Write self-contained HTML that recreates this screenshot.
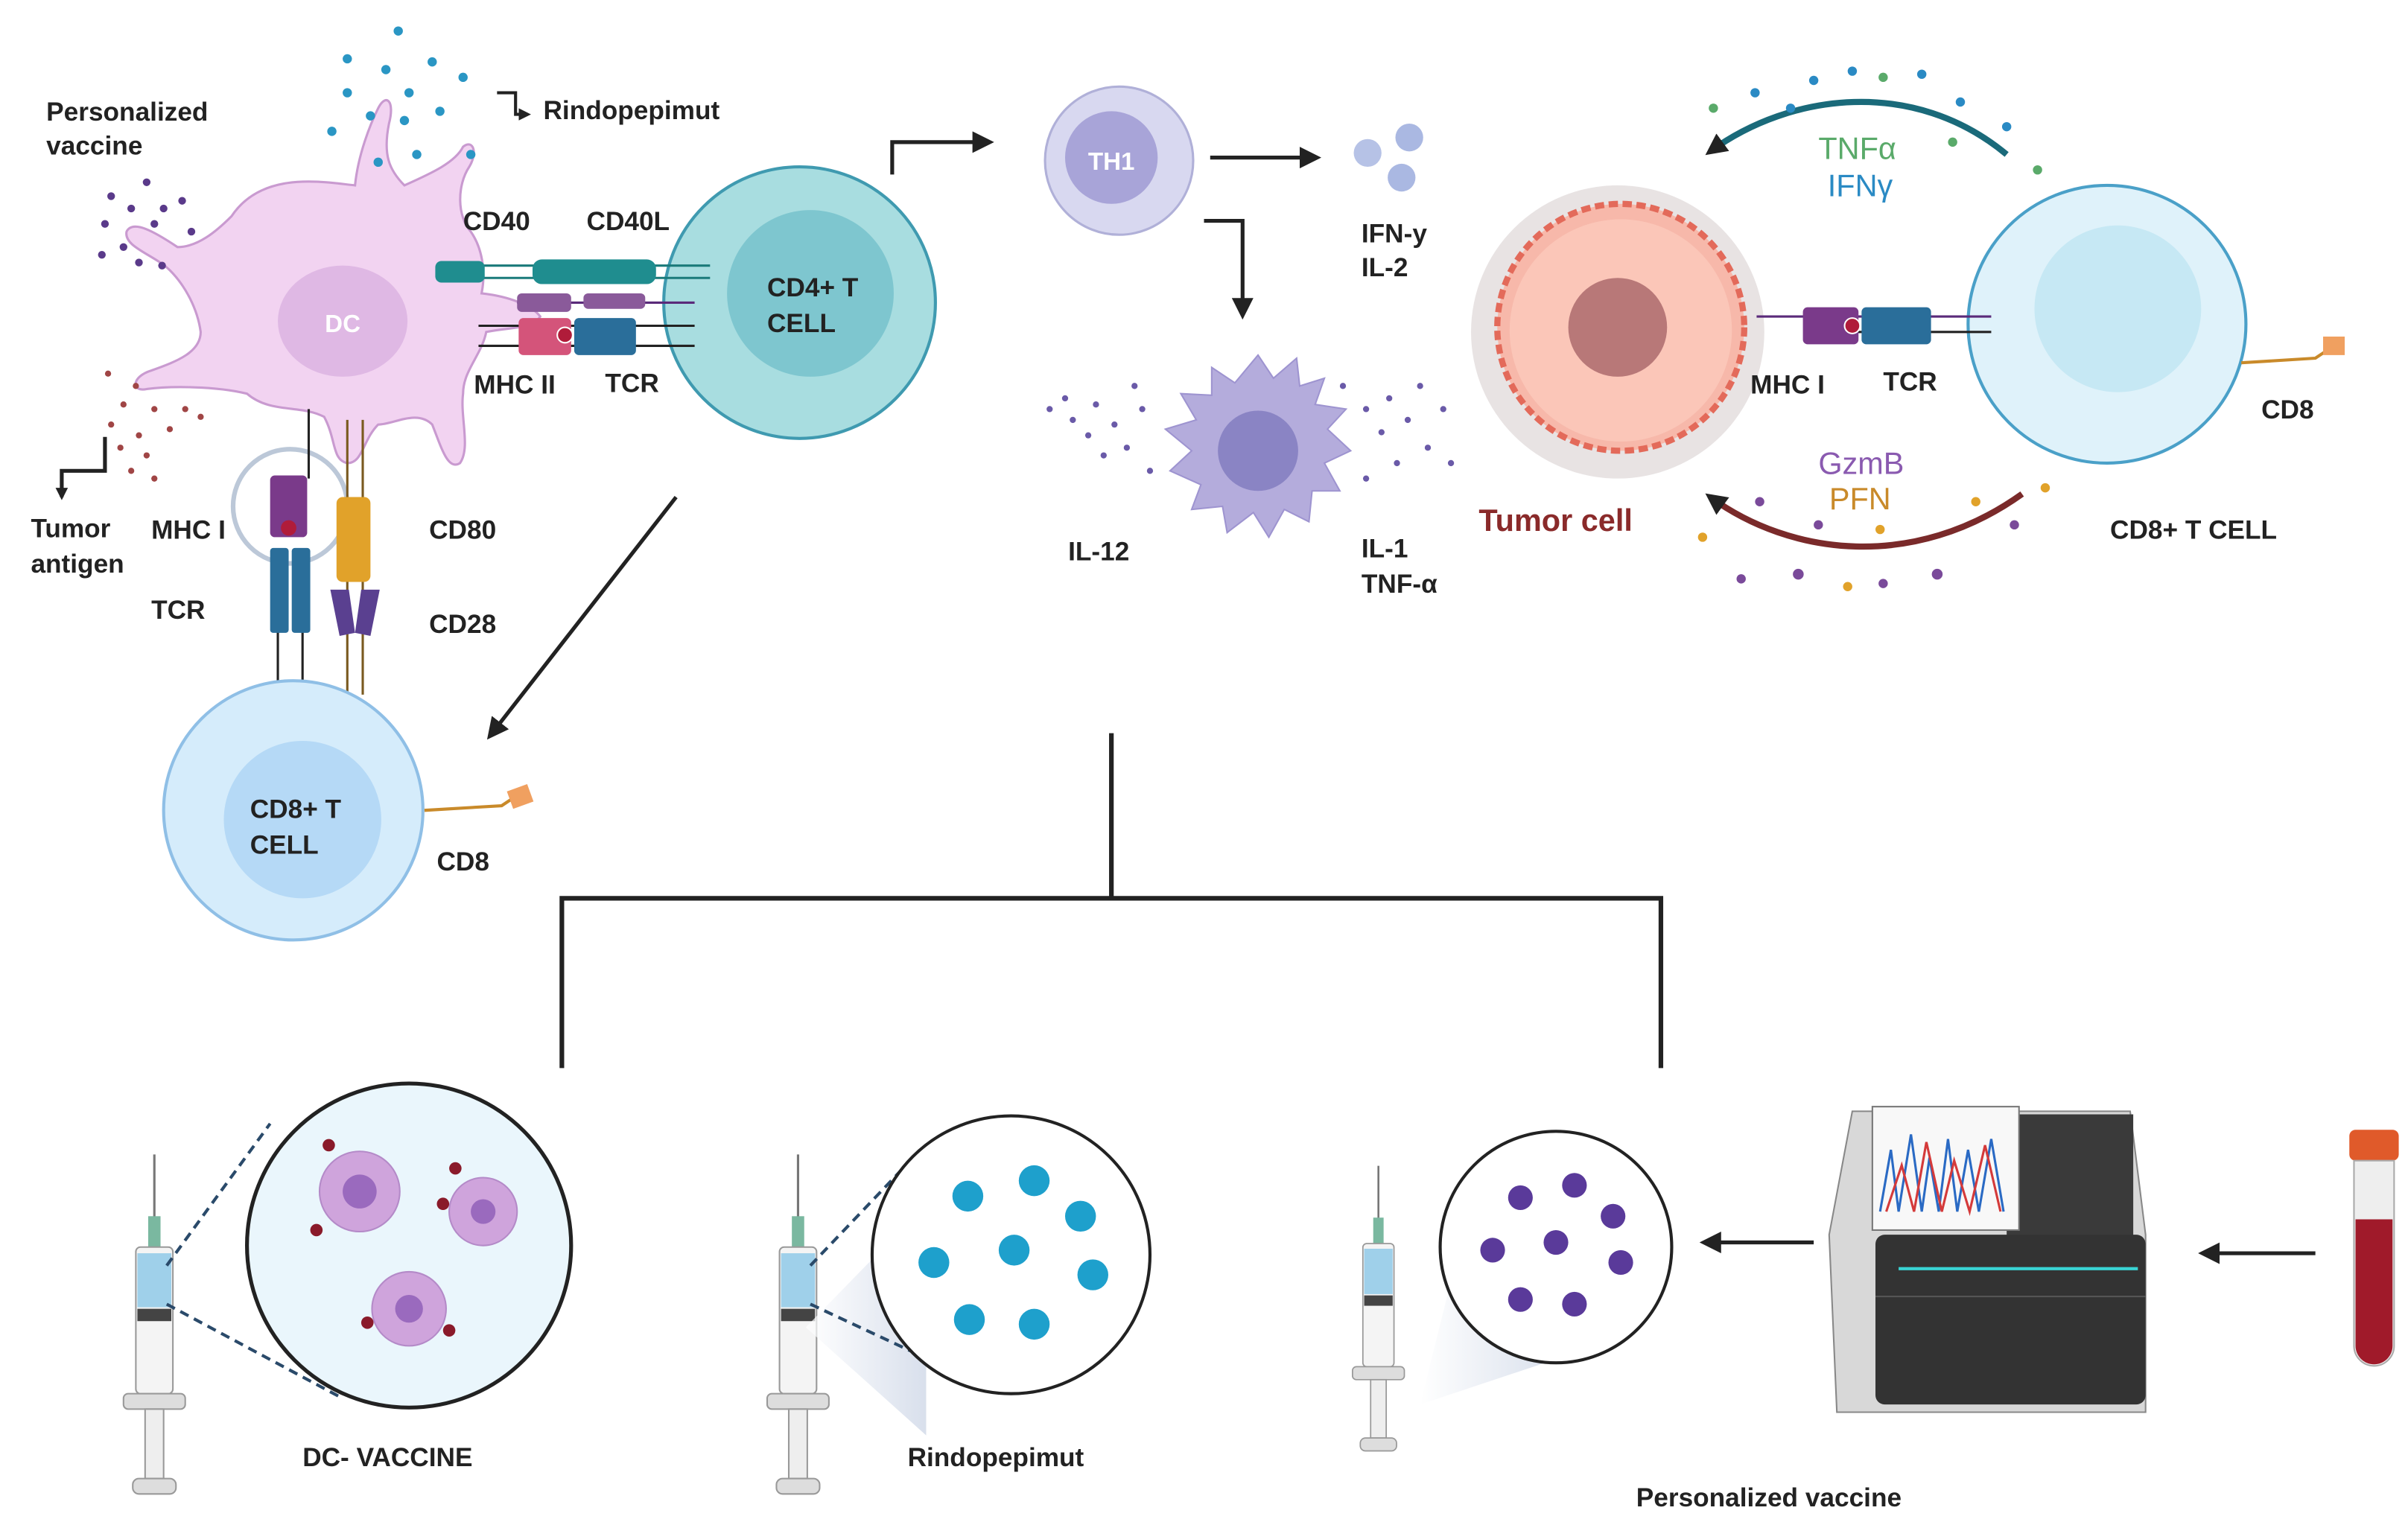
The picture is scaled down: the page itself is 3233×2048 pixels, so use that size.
<!DOCTYPE html>
<html><head><meta charset="utf-8"><style>
html,body{margin:0;padding:0;background:#fff}
svg{display:block}
text{font-family:"Liberation Sans",sans-serif;font-weight:bold}
</style></head><body>
<svg width="3233" height="2048" viewBox="0 0 1560 988" xmlns="http://www.w3.org/2000/svg">
<defs>
<marker id="ah" markerWidth="8" markerHeight="8" refX="6" refY="4" orient="auto" markerUnits="userSpaceOnUse"><path d="M0,0 L8,4 L0,8 Z" fill="#222"/></marker>
<marker id="ah2" markerWidth="14" markerHeight="14" refX="10" refY="7" orient="auto" markerUnits="userSpaceOnUse"><path d="M0,0 L14,7 L0,14 Z" fill="#222"/></marker>
<linearGradient id="cone" x1="0" x2="1"><stop offset="0" stop-color="#fff"/><stop offset="1" stop-color="#c8d2e4"/></linearGradient>
</defs>

<!-- DC cell -->
<g fill="#f2d3f1" stroke="#c99ad0" stroke-width="1.5">
<path d="M150,140 C170,110 210,118 230,120 C232,100 240,80 245,70 C250,60 256,65 252,80 C248,100 252,110 262,120 C280,112 295,105 300,95 C306,90 310,98 304,108 C296,120 296,140 305,150 C312,160 315,175 312,190 C330,192 345,198 350,205 C345,213 330,212 315,215 C312,230 300,240 300,255 C298,270 305,290 298,300 C290,305 286,290 280,275 C270,265 255,275 245,275 C235,285 235,300 225,300 C215,298 218,285 210,270 C195,262 175,268 160,255 C140,250 110,250 95,252 C85,254 85,244 98,240 C115,234 130,228 130,215 C128,200 120,185 110,175 C100,165 80,160 82,150 C86,142 100,150 115,160 C128,160 140,150 150,140 Z"/>
</g>
<ellipse cx="222" cy="208" rx="42" ry="36" fill="#dfb8e4"/>
<text x="222" y="215" font-size="16" fill="#fff" text-anchor="middle">DC</text>

<g fill="#2a96c4">
<circle cx="258" cy="20" r="3"/><circle cx="225" cy="38" r="3"/><circle cx="250" cy="45" r="3"/><circle cx="280" cy="40" r="3"/><circle cx="300" cy="50" r="3"/><circle cx="265" cy="60" r="3"/><circle cx="285" cy="72" r="3"/><circle cx="240" cy="75" r="3"/><circle cx="262" cy="78" r="3"/><circle cx="215" cy="85" r="3"/><circle cx="305" cy="100" r="3"/><circle cx="245" cy="105" r="3"/><circle cx="270" cy="100" r="3"/><circle cx="225" cy="60" r="3"/>
</g>
<g fill="#5a3a8a">
<circle cx="95" cy="118" r="2.5"/><circle cx="72" cy="127" r="2.5"/><circle cx="85" cy="135" r="2.5"/><circle cx="118" cy="130" r="2.5"/><circle cx="68" cy="145" r="2.5"/><circle cx="100" cy="145" r="2.5"/><circle cx="124" cy="150" r="2.5"/><circle cx="80" cy="160" r="2.5"/><circle cx="66" cy="165" r="2.5"/><circle cx="90" cy="170" r="2.5"/><circle cx="105" cy="172" r="2.5"/><circle cx="106" cy="135" r="2.5"/>
</g>
<g fill="#a04545">
<circle cx="70" cy="242" r="2"/><circle cx="88" cy="250" r="2"/><circle cx="80" cy="262" r="2"/><circle cx="100" cy="265" r="2"/><circle cx="72" cy="275" r="2"/><circle cx="90" cy="282" r="2"/><circle cx="110" cy="278" r="2"/><circle cx="78" cy="290" r="2"/><circle cx="95" cy="295" r="2"/><circle cx="120" cy="265" r="2"/><circle cx="85" cy="305" r="2"/><circle cx="100" cy="310" r="2"/><circle cx="130" cy="270" r="2"/>
</g>

<text x="30" y="78" font-size="17" fill="#222">Personalized</text>
<text x="30" y="100" font-size="17" fill="#222">vaccine</text>
<path d="M322,60 L334,60 L334,74 L342,74" fill="none" stroke="#222" stroke-width="2" marker-end="url(#ah)"/>
<text x="352" y="77" font-size="17" fill="#222">Rindopepimut</text>
<path d="M68,283 L68,305 L40,305 L40,322" fill="none" stroke="#222" stroke-width="2.5" marker-end="url(#ah)"/>
<text x="20" y="348" font-size="17" fill="#222">Tumor</text>
<text x="20" y="371" font-size="17" fill="#222">antigen</text>

<circle cx="518" cy="196" r="88" fill="#a8dde0" stroke="#3f9ab0" stroke-width="2"/>
<circle cx="525" cy="190" r="54" fill="#7ec6cf"/>
<text x="497" y="192" font-size="17" fill="#222">CD4+ T</text>
<text x="497" y="215" font-size="17" fill="#222">CELL</text>

<g>
<line x1="290" y1="172" x2="460" y2="172" stroke="#1a7a7a" stroke-width="1.5"/>
<line x1="290" y1="180" x2="460" y2="180" stroke="#1a7a7a" stroke-width="1.5"/>
<rect x="282" y="169" width="32" height="14" rx="4" fill="#1f8d8f"/>
<rect x="345" y="168" width="80" height="16" rx="6" fill="#1f8d8f"/>
<line x1="335" y1="196" x2="450" y2="196" stroke="#5a2a7a" stroke-width="1.5"/>
<rect x="335" y="190" width="35" height="12" rx="3" fill="#8a5a9a"/>
<rect x="378" y="190" width="40" height="10" rx="3" fill="#8a5a9a"/>
<line x1="310" y1="211" x2="450" y2="211" stroke="#222" stroke-width="1.5"/>
<line x1="310" y1="224" x2="450" y2="224" stroke="#222" stroke-width="1.5"/>
<rect x="336" y="206" width="34" height="24" rx="3" fill="#d4547a"/>
<circle cx="366" cy="217" r="5" fill="#b01c3a" stroke="#fff"/>
<rect x="372" y="206" width="40" height="24" rx="3" fill="#2a6e9a"/>
</g>
<text x="300" y="149" font-size="17" fill="#222">CD40</text>
<text x="380" y="149" font-size="17" fill="#222">CD40L</text>
<text x="307" y="255" font-size="17" fill="#222">MHC II</text>
<text x="392" y="254" font-size="17" fill="#222">TCR</text>

<circle cx="188" cy="328" r="37" fill="none" stroke="#bcc8d8" stroke-width="3"/>
<line x1="180" y1="450" x2="180" y2="385" stroke="#222" stroke-width="1.5"/>
<line x1="196" y1="450" x2="196" y2="385" stroke="#222" stroke-width="1.5"/>
<line x1="200" y1="265" x2="200" y2="310" stroke="#222" stroke-width="1.5"/>
<rect x="175" y="308" width="24" height="40" rx="3" fill="#7a3a8a"/>
<circle cx="187" cy="342" r="5" fill="#b01c3a"/>
<rect x="175" y="355" width="12" height="55" rx="2" fill="#2a6e9a"/>
<rect x="189" y="355" width="12" height="55" rx="2" fill="#2a6e9a"/>
<line x1="225" y1="272" x2="225" y2="450" stroke="#7a5a20" stroke-width="1.5"/>
<line x1="235" y1="272" x2="235" y2="450" stroke="#7a5a20" stroke-width="1.5"/>
<rect x="218" y="322" width="22" height="55" rx="4" fill="#e1a22a"/>
<path d="M214,382 L226,382 L230,410 L220,412 Z" fill="#5a4090"/>
<path d="M234,382 L246,382 L240,412 L230,410 Z" fill="#5a4090"/>
<text x="98" y="349" font-size="17" fill="#222">MHC I</text>
<text x="98" y="401" font-size="17" fill="#222">TCR</text>
<text x="278" y="349" font-size="17" fill="#222">CD80</text>
<text x="278" y="410" font-size="17" fill="#222">CD28</text>

<circle cx="190" cy="525" r="84" fill="#d5ecfb" stroke="#8fbfe6" stroke-width="2"/>
<circle cx="196" cy="531" r="51" fill="#b5d9f6"/>
<text x="162" y="530" font-size="17" fill="#222">CD8+ T</text>
<text x="162" y="553" font-size="17" fill="#222">CELL</text>
<path d="M275,525 L325,522 L340,512" fill="none" stroke="#c98a2a" stroke-width="2"/>
<rect x="330" y="510" width="14" height="12" fill="#f0a060" transform="rotate(-20 337 516)"/>
<text x="283" y="564" font-size="17" fill="#222">CD8</text>

<line x1="438" y1="322" x2="318" y2="476" stroke="#222" stroke-width="2.5" marker-end="url(#ah2)"/>

<path d="M578,113 L578,92 L640,92" fill="none" stroke="#222" stroke-width="2.5" marker-end="url(#ah2)"/>
<circle cx="725" cy="104" r="48" fill="#d8d8f0" stroke="#b0b0d8" stroke-width="1.5"/>
<circle cx="720" cy="102" r="30" fill="#a8a4d8"/>
<text x="720" y="110" font-size="16" fill="#fff" text-anchor="middle">TH1</text>
<line x1="784" y1="102" x2="852" y2="102" stroke="#222" stroke-width="2.5" marker-end="url(#ah2)"/>
<circle cx="886" cy="99" r="9" fill="#b6c2e6"/><circle cx="913" cy="89" r="9" fill="#aab8e2"/><circle cx="908" cy="115" r="9" fill="#aab8e2"/>
<text x="882" y="157" font-size="17" fill="#222">IFN-y</text>
<text x="882" y="179" font-size="17" fill="#222">IL-2</text>
<path d="M780,143 L805,143 L805,203" fill="none" stroke="#222" stroke-width="2.5" marker-end="url(#ah2)"/>

<path d="M815,230 L825,245 L840,232 L842,250 L858,245 L852,262 L872,265 L860,278 L875,292 L858,300 L868,318 L850,318 L848,338 L832,330 L822,348 L812,332 L795,345 L792,328 L772,330 L778,314 L758,305 L772,292 L755,278 L775,272 L765,255 L785,256 L785,238 L800,248 Z" fill="#b4acdc" stroke="#9e94d0"/>
<circle cx="815" cy="292" r="26" fill="#8a84c4"/>
<g fill="#6a5aa8">
<circle cx="680" cy="265" r="2"/><circle cx="695" cy="272" r="2"/><circle cx="710" cy="262" r="2"/><circle cx="705" cy="282" r="2"/><circle cx="722" cy="275" r="2"/><circle cx="730" cy="290" r="2"/><circle cx="740" cy="265" r="2"/><circle cx="715" cy="295" r="2"/><circle cx="745" cy="305" r="2"/><circle cx="735" cy="250" r="2"/><circle cx="690" cy="258" r="2"/>
<circle cx="870" cy="250" r="2"/><circle cx="885" cy="265" r="2"/><circle cx="900" cy="258" r="2"/><circle cx="895" cy="280" r="2"/><circle cx="912" cy="272" r="2"/><circle cx="925" cy="290" r="2"/><circle cx="905" cy="300" r="2"/><circle cx="885" cy="310" r="2"/><circle cx="935" cy="265" r="2"/><circle cx="920" cy="250" r="2"/><circle cx="940" cy="300" r="2"/>
</g>
<text x="692" y="363" font-size="17" fill="#222">IL-12</text>
<text x="882" y="361" font-size="17" fill="#222">IL-1</text>
<text x="882" y="384" font-size="17" fill="#222">TNF-α</text>

<circle cx="1048" cy="215" r="95" fill="#e2dcdc" opacity="0.8"/>
<circle cx="1050" cy="212" r="80" fill="#f7b8aa" stroke="#e36a5a" stroke-width="4" stroke-dasharray="6 3"/>
<circle cx="1050" cy="214" r="72" fill="#fbc6b8"/>
<circle cx="1048" cy="212" r="32" fill="#b87878"/>
<text x="958" y="344" font-size="20" fill="#8a2a2a">Tumor cell</text>

<circle cx="1365" cy="210" r="90" fill="#dff2fa" stroke="#4aa0c8" stroke-width="2"/>
<circle cx="1372" cy="200" r="54" fill="#c6e8f4"/>
<line x1="1138" y1="205" x2="1290" y2="205" stroke="#5a2a7a" stroke-width="1.5"/>
<line x1="1200" y1="215" x2="1290" y2="215" stroke="#222" stroke-width="1.5"/>
<rect x="1168" y="199" width="36" height="24" rx="3" fill="#7a3a8a"/>
<circle cx="1200" cy="211" r="5" fill="#b01c3a" stroke="#fff"/>
<rect x="1206" y="199" width="45" height="24" rx="3" fill="#2a6e9a"/>
<text x="1134" y="255" font-size="17" fill="#222">MHC I</text>
<text x="1220" y="253" font-size="17" fill="#222">TCR</text>
<path d="M1452,235 L1500,232 L1515,222" fill="none" stroke="#c98a2a" stroke-width="2"/>
<rect x="1505" y="218" width="14" height="12" fill="#f0a060"/>
<text x="1465" y="271" font-size="17" fill="#222">CD8</text>
<text x="1367" y="349" font-size="17" fill="#222">CD8+ T CELL</text>

<path d="M1300,100 C1240,50 1160,60 1108,98" fill="none" stroke="#1a6a7a" stroke-width="4" marker-end="url(#ah2)"/>
<text x="1178" y="103" font-size="20" fill="#5aaa6a" style="font-weight:normal">TNFα</text>
<text x="1184" y="127" font-size="20" fill="#2a8ac4" style="font-weight:normal">IFNγ</text>
<g fill="#2a8ac4"><circle cx="1175" cy="52" r="3"/><circle cx="1200" cy="46" r="3"/><circle cx="1245" cy="48" r="3"/><circle cx="1270" cy="66" r="3"/><circle cx="1137" cy="60" r="3"/><circle cx="1160" cy="70" r="3"/><circle cx="1300" cy="82" r="3"/></g>
<g fill="#5aaa6a"><circle cx="1220" cy="50" r="3"/><circle cx="1265" cy="92" r="3"/><circle cx="1320" cy="110" r="3"/><circle cx="1110" cy="70" r="3"/></g>
<path d="M1310,320 C1240,370 1160,360 1108,322" fill="none" stroke="#7a2a2a" stroke-width="4" marker-end="url(#ah2)"/>
<text x="1178" y="307" font-size="20" fill="#8a5ab0" style="font-weight:normal">GzmB</text>
<text x="1185" y="330" font-size="20" fill="#c98a2a" style="font-weight:normal">PFN</text>
<g fill="#7a4a9a"><circle cx="1128" cy="375" r="3"/><circle cx="1165" cy="372" r="3.5"/><circle cx="1220" cy="378" r="3"/><circle cx="1255" cy="372" r="3.5"/><circle cx="1305" cy="340" r="3"/><circle cx="1178" cy="340" r="3"/><circle cx="1140" cy="325" r="3"/></g>
<g fill="#e1a22a"><circle cx="1103" cy="348" r="3"/><circle cx="1197" cy="380" r="3"/><circle cx="1218" cy="343" r="3"/><circle cx="1280" cy="325" r="3"/><circle cx="1325" cy="316" r="3"/></g>

<g stroke="#222" stroke-width="3" fill="none">
<path d="M720,475 L720,582"/>
<path d="M364,692 L364,582 L1076,582 L1076,692"/>
</g>

<g id="syr1">
<line x1="100" y1="748" x2="100" y2="790" stroke="#777" stroke-width="1.5"/>
<rect x="96" y="788" width="8" height="22" fill="#7ab8a0"/>
<rect x="88" y="808" width="24" height="95" rx="3" fill="#f4f4f4" stroke="#999"/>
<rect x="89" y="812" width="22" height="35" fill="#9fd0ea"/>
<rect x="89" y="848" width="22" height="8" fill="#444"/>
<rect x="80" y="903" width="40" height="10" rx="3" fill="#ddd" stroke="#999"/>
<rect x="94" y="913" width="12" height="45" fill="#eee" stroke="#999"/>
<rect x="86" y="958" width="28" height="10" rx="4" fill="#ddd" stroke="#999"/>
</g>
<line x1="108" y1="820" x2="175" y2="728" stroke="#2a4a6a" stroke-width="2" stroke-dasharray="6 4"/>
<line x1="108" y1="845" x2="220" y2="905" stroke="#2a4a6a" stroke-width="2" stroke-dasharray="6 4"/>
<circle cx="265" cy="807" r="105" fill="#eaf6fc" stroke="#222" stroke-width="2.5"/>
<g fill="#cfa4dc" stroke="#b48ac8">
<circle cx="233" cy="772" r="26"/><circle cx="313" cy="785" r="22"/><circle cx="265" cy="848" r="24"/>
</g>
<g fill="#9a6abe"><circle cx="233" cy="772" r="11"/><circle cx="313" cy="785" r="8"/><circle cx="265" cy="848" r="9"/></g>
<g fill="#8a1a2a"><circle cx="213" cy="742" r="4"/><circle cx="205" cy="797" r="4"/><circle cx="295" cy="757" r="4"/><circle cx="287" cy="780" r="4"/><circle cx="238" cy="857" r="4"/><circle cx="291" cy="862" r="4"/></g>
<text x="196" y="950" font-size="17" fill="#222">DC- VACCINE</text>

<use href="#syr1" transform="translate(417,0)"/>
<path d="M522,860 L600,780 L600,930 Z" fill="url(#cone)" opacity="0.7"/>
<line x1="525" y1="820" x2="585" y2="757" stroke="#2a4a6a" stroke-width="2" stroke-dasharray="6 4"/>
<line x1="525" y1="845" x2="600" y2="880" stroke="#2a4a6a" stroke-width="2" stroke-dasharray="6 4"/>
<circle cx="655" cy="813" r="90" fill="#fff" stroke="#222" stroke-width="2"/>
<g fill="#1ea0cc"><circle cx="627" cy="775" r="10"/><circle cx="670" cy="765" r="10"/><circle cx="700" cy="788" r="10"/><circle cx="605" cy="818" r="10"/><circle cx="657" cy="810" r="10"/><circle cx="708" cy="826" r="10"/><circle cx="628" cy="855" r="10"/><circle cx="670" cy="858" r="10"/></g>
<text x="588" y="950" font-size="17" fill="#222">Rindopepimut</text>

<g transform="translate(809,127) scale(0.84)"><use href="#syr1"/></g>
<path d="M920,910 L950,790 L1010,880 Z" fill="url(#cone)" opacity="0.7"/>
<circle cx="1008" cy="808" r="75" fill="#fff" stroke="#222" stroke-width="2"/>
<g fill="#5a3a9a"><circle cx="985" cy="776" r="8"/><circle cx="1020" cy="768" r="8"/><circle cx="1045" cy="788" r="8"/><circle cx="967" cy="810" r="8"/><circle cx="1008" cy="805" r="8"/><circle cx="1050" cy="818" r="8"/><circle cx="985" cy="842" r="8"/><circle cx="1020" cy="845" r="8"/></g>
<text x="1060" y="976" font-size="17" fill="#222">Personalized vaccine</text>

<line x1="1175" y1="805" x2="1105" y2="805" stroke="#222" stroke-width="2.5" marker-end="url(#ah2)"/>
<line x1="1500" y1="812" x2="1428" y2="812" stroke="#222" stroke-width="2.5" marker-end="url(#ah2)"/>

<path d="M1200,720 L1380,720 L1390,800 L1390,915 L1190,915 L1185,800 Z" fill="#d8d8d8" stroke="#888"/>
<rect x="1300" y="722" width="82" height="80" fill="#3a3a3a"/>
<rect x="1213" y="717" width="95" height="80" fill="#f8f8f8" stroke="#777"/>
<polyline points="1218,785 1225,745 1230,785 1238,735 1245,785 1250,750 1256,785 1262,738 1268,785 1275,745 1282,785 1290,738 1298,785" fill="none" stroke="#2a6ac4" stroke-width="1.5"/>
<polyline points="1222,785 1232,755 1240,785 1248,740 1258,785 1266,752 1276,785 1286,742 1296,785" fill="none" stroke="#d43a3a" stroke-width="1.5"/>
<rect x="1215" y="800" width="175" height="110" rx="6" fill="#333"/>
<line x1="1230" y1="822" x2="1385" y2="822" stroke="#3ad4d4" stroke-width="2"/>
<line x1="1215" y1="840" x2="1390" y2="840" stroke="#555"/>

<rect x="1522" y="732" width="32" height="20" rx="4" fill="#e05a2a"/>
<path d="M1525,752 L1551,752 L1551,872 A13,13 0 0 1 1525,872 Z" fill="#eee" stroke="#aaa"/>
<path d="M1526,790 L1550,790 L1550,872 A12,12 0 0 1 1526,872 Z" fill="#a01a2a"/>
</svg>
</body></html>
